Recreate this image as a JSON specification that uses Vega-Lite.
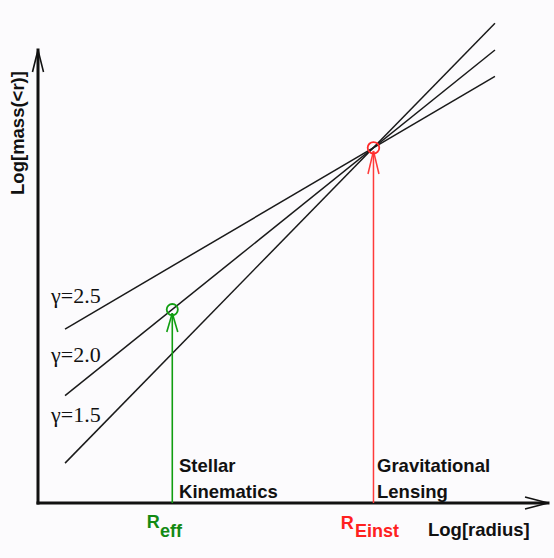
{
  "$schema": "https://vega.github.io/schema/vega-lite/v6.json",
  "width": 510,
  "height": 453,
  "autosize": {"type": "none"},
  "padding": {"left": 38, "top": 50, "right": 6, "bottom": 55},
  "background": "#fcfbfd",
  "config": {"view": {"stroke": null}},
  "datasets": {
    "axes": [
      {"part": "y axis", "x": 0, "y": 0, "x2": 0, "y2": 10},
      {"part": "x axis", "x": 0, "y": 0, "x2": 10, "y2": 0}
    ],
    "axisHeads": [
      {"part": "y head left", "x": -0.108, "y": 9.514, "x2": 0, "y2": 10},
      {"part": "y head right", "x": 0.108, "y": 9.514, "x2": 0, "y2": 10},
      {"part": "x head upper", "x": 9.549, "y": 0.132, "x2": 10, "y2": 0},
      {"part": "x head lower", "x": 9.549, "y": -0.132, "x2": 10, "y2": 0}
    ],
    "profiles": [
      {"gamma": "2.5", "x": 0.53, "y": 3.84, "x2": 8.96, "y2": 9.42},
      {"gamma": "2.0", "x": 0.53, "y": 2.37, "x2": 8.96, "y2": 10.0},
      {"gamma": "1.5", "x": 0.53, "y": 0.88, "x2": 8.96, "y2": 10.59}
    ],
    "kinematics": [
      {"part": "shaft", "x": 2.633, "y": 0, "x2": 2.633, "y2": 4.19},
      {"part": "head left", "x": 2.525, "y": 3.775, "x2": 2.633, "y2": 4.19},
      {"part": "head right", "x": 2.741, "y": 3.775, "x2": 2.633, "y2": 4.19}
    ],
    "lensing": [
      {"part": "shaft", "x": 6.578, "y": 0, "x2": 6.578, "y2": 7.77},
      {"part": "head left", "x": 6.47, "y": 7.263, "x2": 6.578, "y2": 7.77},
      {"part": "head right", "x": 6.686, "y": 7.263, "x2": 6.578, "y2": 7.77}
    ],
    "gammaLabels": [
      {"label": "γ=2.5", "x": 0.255, "y": 4.408},
      {"label": "γ=2.0", "x": 0.255, "y": 3.119},
      {"label": "γ=1.5", "x": 0.255, "y": 1.795}
    ],
    "notes": [
      {"label": "Stellar", "x": 2.765, "y": 0.684},
      {"label": "Kinematics", "x": 2.765, "y": 0.11},
      {"label": "Gravitational", "x": 6.647, "y": 0.684},
      {"label": "Lensing", "x": 6.647, "y": 0.11},
      {"label": "Log[radius]", "x": 7.647, "y": -0.728}
    ]
  },
  "encoding": {
    "x": {"field": "x", "type": "quantitative", "scale": {"domain": [0, 10], "nice": false, "zero": false}, "axis": null},
    "y": {"field": "y", "type": "quantitative", "scale": {"domain": [0, 10], "nice": false, "zero": false}, "axis": null}
  },
  "layer": [
    {
      "data": {"name": "axes"},
      "mark": {"type": "rule", "color": "#111111", "strokeWidth": 3, "strokeCap": "square"},
      "encoding": {"x2": {"field": "x2"}, "y2": {"field": "y2"}}
    },
    {
      "data": {"name": "axisHeads"},
      "mark": {"type": "rule", "color": "#111111", "strokeWidth": 1.6},
      "encoding": {"x2": {"field": "x2"}, "y2": {"field": "y2"}}
    },
    {
      "data": {"name": "profiles"},
      "mark": {"type": "rule", "color": "#1a1a1a", "strokeWidth": 1.5},
      "encoding": {"x2": {"field": "x2"}, "y2": {"field": "y2"}}
    },
    {
      "data": {"name": "kinematics"},
      "mark": {"type": "rule", "color": "#119e11", "strokeWidth": 1.6},
      "encoding": {"x2": {"field": "x2"}, "y2": {"field": "y2"}}
    },
    {
      "data": {"name": "lensing"},
      "mark": {"type": "rule", "color": "#ff3a3a", "strokeWidth": 1.5},
      "encoding": {"x2": {"field": "x2"}, "y2": {"field": "y2"}}
    },
    {
      "data": {"values": [{"probe": "Reff", "x": 2.633, "y": 4.27}]},
      "mark": {"type": "point", "shape": "circle", "size": 125, "filled": false, "color": "#119e11", "strokeWidth": 1.8, "opacity": 1}
    },
    {
      "data": {"values": [{"probe": "REinst", "x": 6.578, "y": 7.84}]},
      "mark": {"type": "point", "shape": "circle", "size": 135, "filled": false, "color": "#ff2a2a", "strokeWidth": 1.8, "opacity": 1}
    },
    {
      "data": {"name": "gammaLabels"},
      "mark": {"type": "text", "align": "left", "baseline": "alphabetic", "font": "Liberation Serif", "fontSize": 22, "color": "#111111"},
      "encoding": {"text": {"field": "label"}}
    },
    {
      "data": {"name": "notes"},
      "mark": {"type": "text", "align": "left", "baseline": "alphabetic", "font": "Liberation Sans", "fontSize": 18.5, "fontWeight": "bold", "color": "#111111"},
      "encoding": {"text": {"field": "label"}}
    },
    {
      "data": {"values": [{"label": "Log[mass(<r)]", "x": -0.398, "y": 8.168}]},
      "mark": {"type": "text", "angle": 270, "align": "center", "baseline": "middle", "font": "Liberation Sans", "fontSize": 18.5, "fontWeight": "bold", "color": "#111111"},
      "encoding": {"text": {"field": "label"}}
    },
    {
      "data": {"values": [
        {"label": "R", "x": 2.131, "y": -0.552},
        {"label": "eff", "x": 2.39, "y": -0.751}
      ]},
      "mark": {"type": "text", "align": "left", "baseline": "alphabetic", "font": "Liberation Sans", "fontSize": 18, "fontWeight": "bold", "color": "#138a13"},
      "encoding": {"text": {"field": "label"}}
    },
    {
      "data": {"values": [
        {"label": "R", "x": 5.935, "y": -0.574},
        {"label": "Einst", "x": 6.216, "y": -0.751}
      ]},
      "mark": {"type": "text", "align": "left", "baseline": "alphabetic", "font": "Liberation Sans", "fontSize": 18, "fontWeight": "bold", "color": "#ff2020"},
      "encoding": {"text": {"field": "label"}}
    }
  ]
}
